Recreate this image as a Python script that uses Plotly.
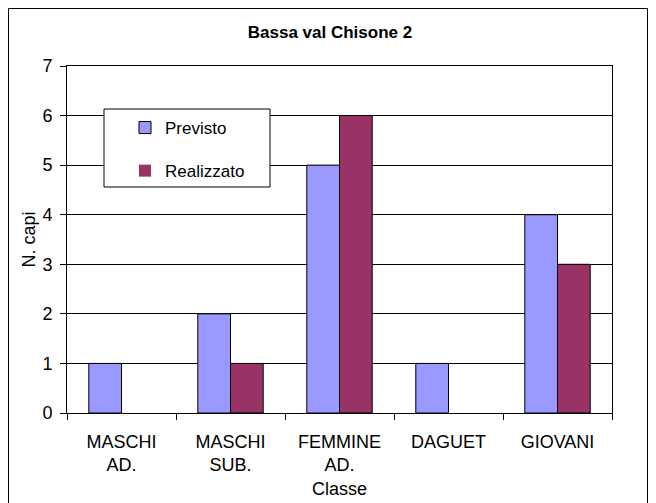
import plotly.graph_objects as go

categories = ["MASCHI<br>AD.", "MASCHI<br>SUB.", "FEMMINE<br>AD.", "DAGUET", "GIOVANI"]
previsto = [1, 2, 5, 1, 4]
realizzato = [0, 1, 6, 0, 3]
y_ticks = [0, 1, 2, 3, 4, 5, 6, 7]

FONT = "Liberation Sans, Arial, sans-serif"

# plot area in figure pixels (page offsets the figure by 8px)
L, R, T, B = 59, 604, 58, 405
PW, PH = R - L, B - T


def px(x):
    return (x - L) / PW


def py(y):
    return (B - y) / PH


def outline(vals):
    return [1 if v > 0 else 0 for v in vals]


fig = go.Figure()
fig.add_trace(go.Bar(x=categories, y=previsto, name="Previsto", legendgroup="a",
                     marker=dict(color="#9999FF",
                                 line=dict(color="#000000", width=outline(previsto)))))
fig.add_trace(go.Bar(x=categories, y=realizzato, name="Realizzato", legendgroup="b",
                     marker=dict(color="#993366",
                                 line=dict(color="#000000", width=outline(realizzato)))))

fig.update_layout(
    width=656, height=503,
    paper_bgcolor="white", plot_bgcolor="white",
    margin=dict(l=L, r=656 - R, t=T, b=503 - B),
    barmode="group", bargap=0.4, bargroupgap=0,
    font=dict(family=FONT, size=18, color="#000000"),
    title=dict(text="<b>Bassa val Chisone 2</b>", x=322 / 656, xref="container",
               xanchor="center", y=1 - 24 / 503, yanchor="middle",
               font=dict(size=17, family=FONT)),
    showlegend=True,
    legend=dict(x=px(117), y=py(102), xanchor="left", yanchor="top",
                bgcolor="rgba(0,0,0,0)", borderwidth=0,
                font=dict(size=17, family=FONT), traceorder="grouped",
                tracegroupgap=18),
    xaxis=dict(showline=True, linecolor="#000000", linewidth=1, mirror=True,
               ticks="outside", tickson="boundaries", ticklen=6, tickcolor="#000000",
               tickfont=dict(size=18), ticklabelstandoff=12,
               title=dict(text="Classe", font=dict(size=18), standoff=8)),
    yaxis=dict(range=[0, 7], tickvals=y_ticks, showgrid=True, gridcolor="#000000",
               gridwidth=1, showline=True, linecolor="#000000", linewidth=1, mirror=True,
               ticks="outside", ticklen=6, tickcolor="#000000", zeroline=False,
               tickfont=dict(size=18), ticklabelstandoff=4,
               title=dict(text="N. capi", font=dict(size=18), standoff=2)),
    shapes=[
        dict(type="rect", xref="paper", yref="paper",
             x0=px(0.5), x1=px(639.5), y0=py(520), y1=py(0.5),
             line=dict(color="#000000", width=1), layer="below"),
        dict(type="rect", xref="paper", yref="paper",
             x0=px(96), x1=px(262), y0=py(179), y1=py(101),
             fillcolor="white", line=dict(color="#000000", width=1), layer="above"),
    ],
)

fig.write_html("out.html")
